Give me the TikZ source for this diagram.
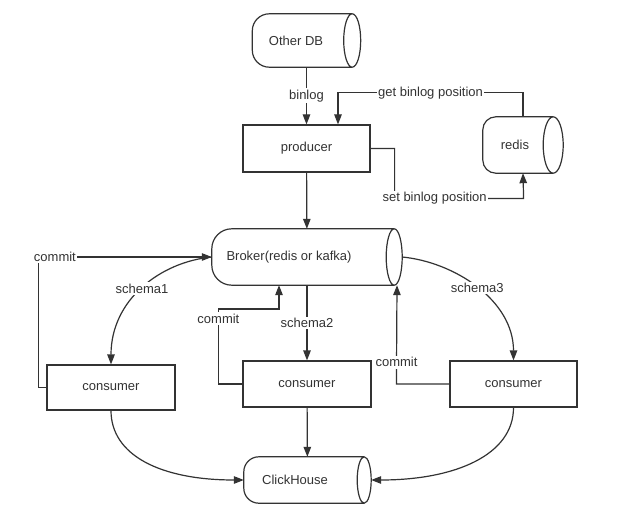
\documentclass[tikz,border=0pt]{standalone}
\usepackage{fontspec}
\setmainfont{Liberation Sans}
\usetikzlibrary{arrows.meta,calc}
\definecolor{ink}{HTML}{333333}
\tikzset{
  txt/.style={text=ink, font=\fontsize{13}{15}\selectfont},
  box/.style={txt, draw=ink, line width=1.2pt, inner sep=0pt},
  cylbase/.style={inner sep=0pt},
  conn/.style={draw=ink, line width=1.2pt},
  arr/.style={conn, -{Triangle[length=10pt,width=7.5pt]}},
  lbl/.style={txt, fill=white, inner sep=1.5pt},
}
\newcommand\cylshape[3]{%
  \draw[conn] let \p1=(#1.north west), \p2=(#1.south east), \n1={(\y1-\y2)/2} in
    (\x2-#3,\y1) -- (\x1+#2,\y1) arc[start angle=90,end angle=180,radius=#2]
    -- (\x1,\y2+#2) arc[start angle=180,end angle=270,radius=#2] -- (\x2-#3,\y2)
    (\x2-#3,\y1) arc[start angle=90,end angle=-90,x radius=#3,y radius=\n1]
    arc[start angle=270,end angle=90,x radius=#3,y radius=\n1];}
\begin{document}
\begin{tikzpicture}[x=1pt,y=1pt]
\useasboundingbox[fill=white] (0,0) rectangle (640,-524);
% cylinders
\node[cylbase, minimum width=108pt, minimum height=53pt,
  label={[txt, xshift=-10.5pt]center:Other DB}] (odb) at (306.5,-40.5) {};
\node[cylbase, minimum width=80pt, minimum height=56pt,
  label={[txt, xshift=-8pt]center:redis}] (redis) at (523,-145) {};
\node[cylbase, minimum width=190pt, minimum height=56pt,
  label={[txt, xshift=-18pt]center:Broker(redis or kafka)}] (broker) at (307,-257) {};
\node[cylbase, minimum width=127pt, minimum height=46pt,
  label={[txt, xshift=-12.5pt]center:ClickHouse}] (ch) at (307.5,-480) {};
\cylshape{odb}{17pt}{8.5pt}
\cylshape{redis}{13pt}{10pt}
\cylshape{broker}{20pt}{8pt}
\cylshape{ch}{15pt}{7pt}
% boxes
\node[box, minimum width=127pt, minimum height=47pt] (prod) at (306.5,-148.5) {producer};
\node[box, minimum width=128pt, minimum height=45pt] (c1) at (111,-387.5) {consumer};
\node[box, minimum width=128pt, minimum height=46pt] (c2) at (307,-384) {consumer};
\node[box, minimum width=127pt, minimum height=46pt] (c3) at (513.5,-384) {consumer};
% connectors
\draw[arr] (odb) -- node[lbl]{binlog} (prod);
\draw[arr] (redis.north) -- ++(0,24) -- node[lbl]{get binlog position} ++(-185,0)
  -- ([xshift=31.5pt]prod.north);
\draw[arr] (prod.east) -- ++(24,0) -- ++(0,-50)
  -- node[lbl, pos=0.31]{set binlog position} ++(129,0) -- (redis.south);
\draw[arr] (prod) -- (broker);
\draw[arr] (c1.west) -- ++(-8,0) |- node[lbl, pos=0.5, xshift=16.5pt]{commit} (broker.west);
\draw[arr] (broker.west) .. controls (160,-262) and (111,-300) .. node[lbl, pos=0.5]{schema1} (c1.north);
\draw[arr] (broker) -- node[lbl]{schema2} (c2);
\draw[arr] (c2.west) -- ++(-24,0) -- node[lbl, pos=0.87]{commit} ++(0,75)
  -| ([xshift=-28pt]broker.south);
\draw[arr] (broker.east) .. controls (454,-262) and (513.5,-300) .. node[lbl, pos=0.5]{schema3} (c3.north);
\draw[arr] (c3.west) -- ++(-53,0) -- node[lbl, pos=0.22]{commit} ([xshift=90pt]broker.south);
\draw[arr] (c1.south) .. controls (111,-455) and (160,-480) .. (ch.west);
\draw[arr] (c2) -- (ch);
\draw[arr] (c3.south) .. controls (513.5,-455) and (455,-480) .. (ch.east);
\end{tikzpicture}
\end{document}
